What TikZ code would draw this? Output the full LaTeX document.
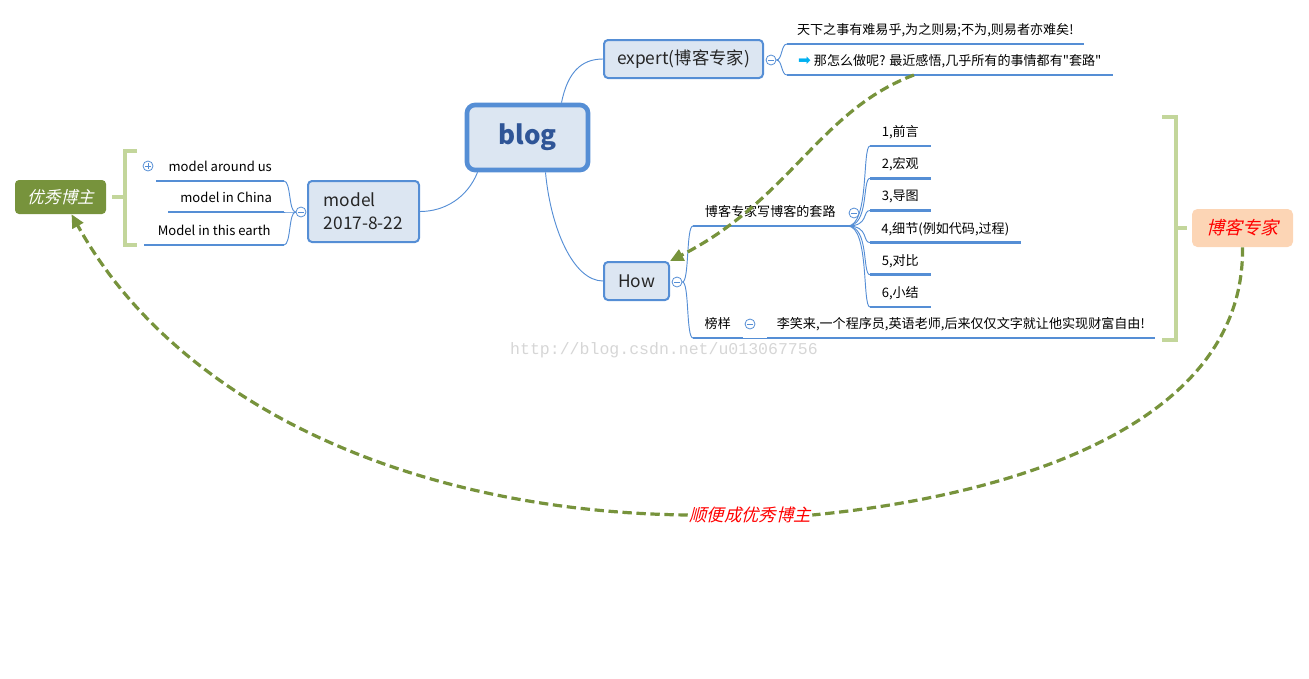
\documentclass[tikz,border=0pt]{standalone}
\usepackage{fontspec}
\setmainfont{Noto Sans CJK SC}[Ligatures=TeXOff]
\newfontfamily\slantfont[FakeSlant=0.25]{Noto Sans CJK SC}
\newfontfamily\symfont{DejaVu Sans}
\newfontfamily\markfont{Liberation Mono}
\usepackage{xcolor}
\usetikzlibrary{arrows.meta, calc}

\definecolor{mmblue}{HTML}{558ED5}
\definecolor{mmfill}{HTML}{DCE6F2}
\definecolor{blogblue}{HTML}{2F5597}
\definecolor{topictext}{HTML}{262626}
\definecolor{relgreen}{HTML}{77933C}
\definecolor{bracegreen}{HTML}{C3D69B}
\definecolor{peach}{HTML}{FCD5B5}
\definecolor{iconblue}{HTML}{00B0F0}

\begin{document}
\begin{tikzpicture}[
  x=0.75pt, y=-0.75pt,
  topic/.style={rectangle, rounded corners=3pt, draw=mmblue, fill=mmfill,
                line width=1.5pt, text=topictext, font=\fontsize{13}{17}\selectfont},
  central/.style={topic, rounded corners=6pt, line width=3.5pt, text=blogblue,
                  font=\fontsize{19.5}{22}\selectfont\bfseries},
  leaf/.style={anchor=south west, inner xsep=0pt, inner ysep=4pt,
               text height=8pt, text depth=3pt, font=\fontsize{9.8}{11}\selectfont},
  leafr/.style={leaf, anchor=south east},
  uline/.style={draw=mmblue, line width=2.2pt},
  branch/.style={draw=mmblue, line width=0.7pt},
  tog/.style={circle, draw=mmblue, fill=white, line width=0.6pt, minimum size=7.5pt, inner sep=0pt,
              path picture={\draw[mmblue, line width=0.6pt]
                ($(path picture bounding box.center)+(-2.8,0)$) -- ($(path picture bounding box.center)+(2.8,0)$);}},
  togplus/.style={circle, draw=mmblue, fill=white, line width=0.6pt, minimum size=7.5pt, inner sep=0pt,
              path picture={\draw[mmblue, line width=0.6pt]
                ($(path picture bounding box.center)+(-2.8,0)$) -- ($(path picture bounding box.center)+(2.8,0)$)
                ($(path picture bounding box.center)+(0,-2.8)$) -- ($(path picture bounding box.center)+(0,2.8)$);}},
  tagolive/.style={rectangle, rounded corners=3pt, fill=relgreen, text=white,
                   minimum width=68.25pt, minimum height=25.5pt, font=\slantfont\fontsize{12.5}{14}\selectfont},
  tagpeach/.style={rectangle, rounded corners=4pt, fill=peach, text=red,
                   minimum width=75.75pt, minimum height=28.5pt, font=\slantfont\fontsize{13.5}{15}\selectfont},
  brace/.style={draw=bracegreen, line width=3pt},
  rel/.style={draw=relgreen, line width=2.4pt, dash pattern=on 7pt off 3.5pt},
  reltip/.style={rel, -{Triangle[length=10pt, width=9pt]}}
]
\useasboundingbox (0,0) rectangle (1309,678);

% watermark
\node[font=\markfont\fontsize{12.4}{14}\selectfont, text=black!16] (mark) at (664,350) {http://blog.csdn.net/u013067756};

% topics
\node[central, minimum width=90.75pt, minimum height=48.75pt] (blog) at (527.5,137.5) {blog};
\node[topic, minimum width=119.25pt, minimum height=28.5pt] (expert) at (683.5,59) {expert(博客专家)};
\node[topic, minimum width=48.75pt, minimum height=28.5pt] (how) at (636.5,281) {How};
\node[topic, minimum width=83.25pt, minimum height=45.75pt, align=left] (model) at (363.5,211.5) {model\\2017-8-22};

% collapse buttons
\node[tog] (expertt) at (771,60) {};
\node[tog] (howt) at (677,282) {};
\node[tog] (modelt) at (301,212) {};
\node[tog] (routinet) at (854,213) {};
\node[tog] (idolt) at (750,324) {};
\node[togplus] (aroundt) at (148,166) {};

% expert
\node[leaf, minimum width=222pt] (e1) at (787,44) {天下之事有难易乎,为之则易;不为,则易者亦难矣!};
\node[leaf, minimum width=243.75pt] (e2) at (787,75) {{\symfont\fontsize{11.5}{11}\selectfont\color{iconblue}➡} 那怎么做呢? 最近感悟,几乎所有的事情都有"套路"};

% how
\node[leaf, minimum width=115.5pt] (routine) at (693,226) {博客专家写博客的套路};
\node[leaf, minimum width=45pt] (st1) at (870,146) {1,前言};
\node[leaf, minimum width=45pt] (st2) at (870,178.3) {2,宏观};
\node[leaf, minimum width=45pt] (st3) at (870,210.5) {3,导图};
\node[leaf, minimum width=112.5pt] (st4) at (870,242.6) {4,细节(例如代码,过程)};
\node[leaf, minimum width=45pt] (st5) at (870,274.8) {5,对比};
\node[leaf, minimum width=45pt] (st6) at (870,307) {6,小结};
\node[leaf, minimum width=36.75pt] (idol) at (693,338) {榜样};
\node[leaf, minimum width=290.25pt] (lxl) at (767,338) {李笑来,一个程序员,英语老师,后来仅仅文字就让他实现财富自由!};

% model
\node[leafr, minimum width=95.25pt] (m1) at (284,181) {model around us};
\node[leafr, minimum width=86.25pt] (m2) at (284,212) {model in China};
\node[leafr, minimum width=104.25pt] (m3) at (284,245) {Model in this earth};

\foreach \n in {e1,e2,routine,st1,st2,st3,st4,st5,st6,idol,lxl,m1,m2,m3}
  \draw[uline] (\n.south west) -- (\n.south east);

% branches
\draw[branch] ($(blog.north)+(34,0)$) .. controls +(6,-30) and +(-22,0) .. (expert.west);
\draw[branch] ($(blog.south)+(18,0)$) .. controls +(5,55) and +(-30,0) .. (how.west);
\draw[branch] ($(blog.south)+(-50,0)$) .. controls +(-10,25) and +(25,0) .. (model.east);

\draw[branch] (expertt.east) .. controls +(6,0) and +(-6,0) .. (e1.south west);
\draw[branch] (expertt.east) .. controls +(6,0) and +(-6,0) .. (e2.south west);
\draw[branch] (howt.east) .. controls +(7,0) and +(-7,0) .. (routine.south west);
\draw[branch] (howt.east) .. controls +(7,0) and +(-7,0) .. (idol.south west);
\foreach \n in {st1,st2,st3,st4,st5,st6}
  \draw[branch] (routine.south east) .. controls +(22,0) and +(-8,0) .. (\n.south west);
\draw[branch] (idol.south east) -- (lxl.south west);
\foreach \n in {m1,m2,m3}
  \draw[branch] (modelt.west) .. controls +(-7,0) and +(7,0) .. (\n.south east);

% summaries
\node[tagolive] (yxbz) at (60.5,197) {优秀博主};
\node[tagpeach] (bkzj) at (1242.5,228) {博客专家};
\draw[brace] (137,151) -- (125,151) -- (125,245) -- (137,245);
\draw[brace] ($(yxbz.east)+(6,0)$) -- (125,197);
\draw[brace] (1162,117) -- (1175.5,117) -- (1175.5,340) -- (1162,340);
\draw[brace] (1175.5,228) -- ($(bkzj.west)+(-5,0)$);

% relationships
\node[font=\slantfont\fontsize{13}{15}\selectfont, text=red, fill=white, inner sep=1pt] (sbcw) at (750,515) {顺便成优秀博主};
\draw[reltip] ($(e2.south west)!0.39!(e2.south east)$) .. controls (820,110) and (790,200) .. (how.north east);
\draw[rel] (bkzj.south) .. controls (1245,430) and (1000,497) .. (sbcw.east);
\draw[reltip] (sbcw.west) .. controls (420,512) and (180,410) .. ($(yxbz.south)+(11,0)$);

\end{tikzpicture}
\end{document}
